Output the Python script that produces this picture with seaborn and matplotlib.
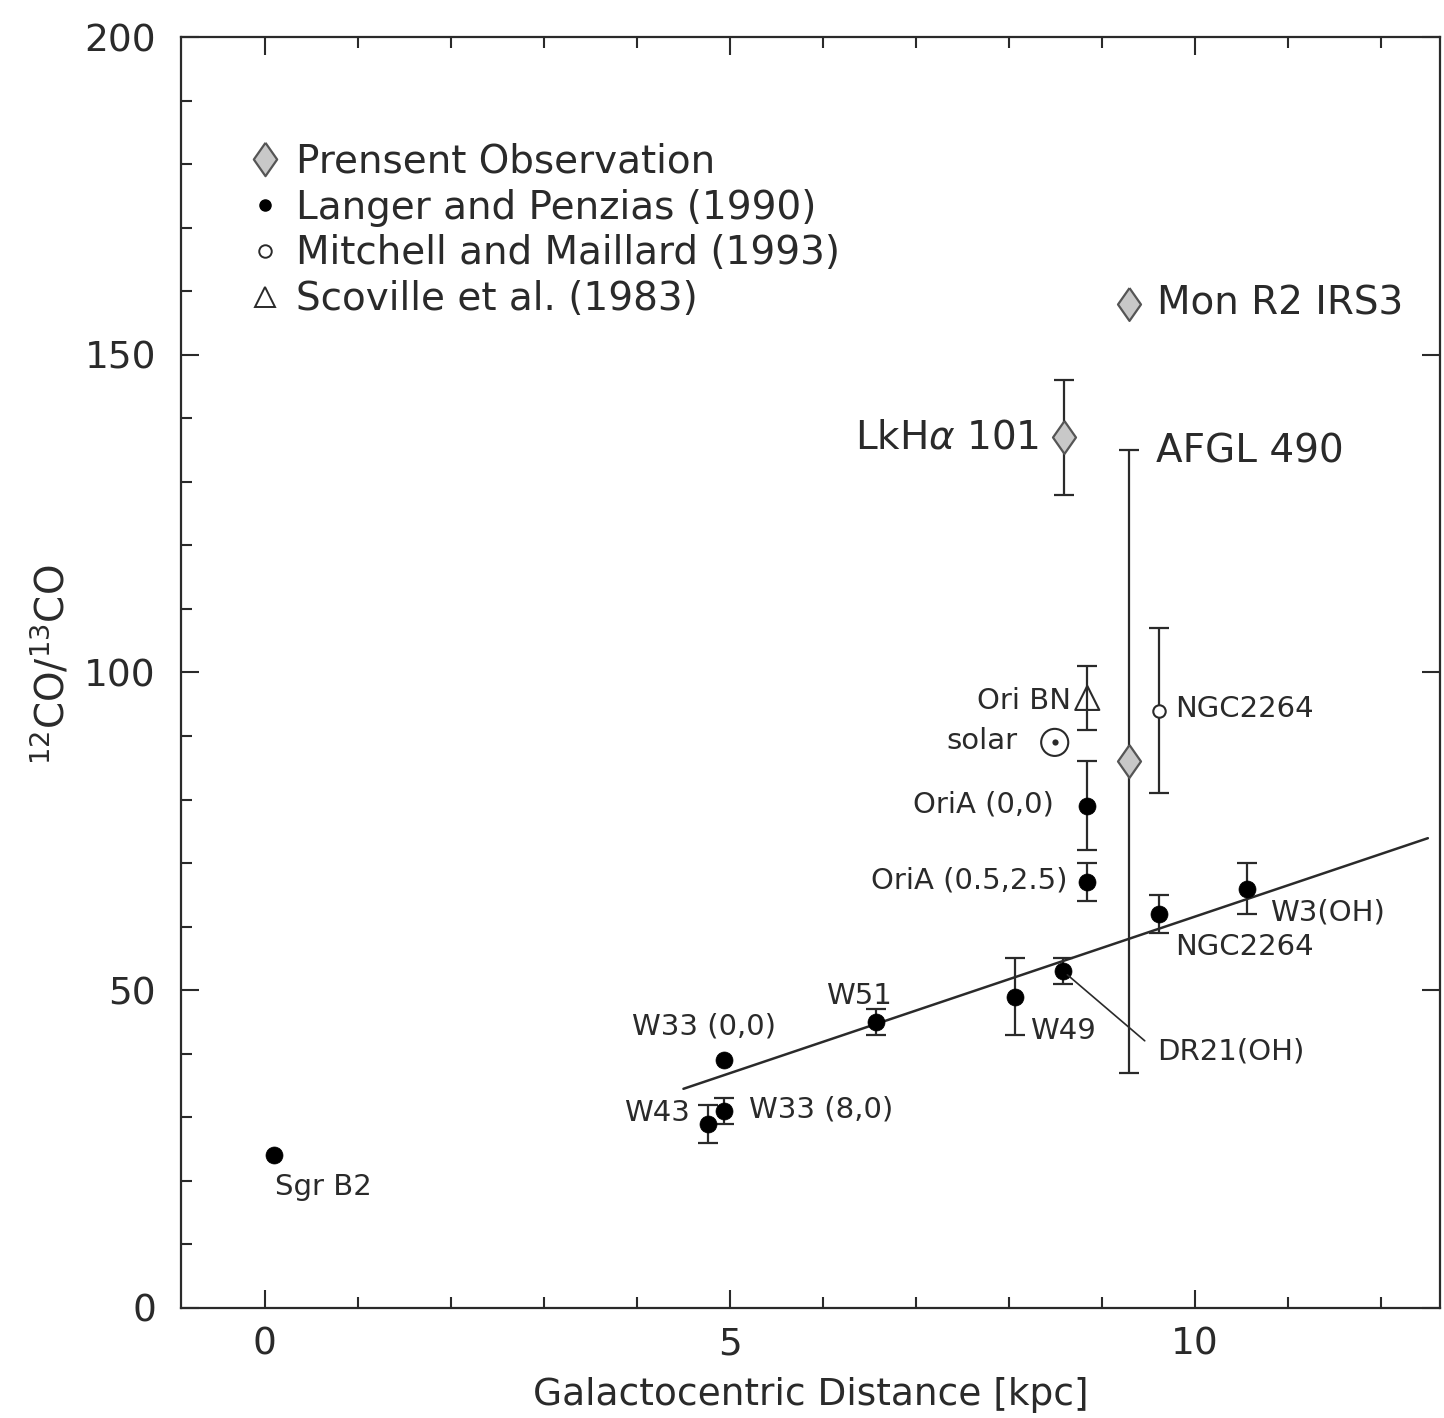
import numpy as np
import pandas as pd
import matplotlib
matplotlib.use("Agg")
import matplotlib.pyplot as plt
from matplotlib.lines import Line2D
from matplotlib.ticker import MultipleLocator
import seaborn as sns

# ---------------- data ----------------
lp_names = ["Sgr B2", "W43", "W33 (0,0)", "W33 (8,0)", "W51", "W49",
            "DR21(OH)", "OriA (0.5,2.5)", "OriA (0,0)", "NGC2264", "W3(OH)"]
lp_x = [0.10, 4.76, 4.94, 4.94, 6.57, 8.06, 8.58, 8.84, 8.84, 9.61, 10.56]
lp_y = [24, 29, 39, 31, 45, 49, 53, 67, 79, 62, 66]
lp_err = [0, 3, 0, 2, 2, 6, 2, 3, 7, 3, 4]

obs_names = ["LkH$\\alpha$ 101", "AFGL 490", "Mon R2 IRS3"]
obs_x = [8.59, 9.29, 9.29]
obs_y = [137, 86, 158]
obs_err = [9, 49, 0]

mm_names = ["NGC2264"]
mm_x = [9.61]
mm_y = [94]
mm_err = [13]

sc_names = ["Ori BN"]
sc_x = [8.84]
sc_y = [96]
sc_err = [5]

solar_x = [8.49]
solar_y = [89]

fit_slope = 4.93
fit_intercept = 12.3
fit_x = [4.5, 12.5]

legend_labels = ["Prensent Observation", "Langer and Penzias (1990)",
                 "Mitchell and Maillard (1993)", "Scoville et al. (1983)"]

# ---------------- style ----------------
sns.set_theme(style="ticks")
plt.rcParams['font.family'] = ['DejaVu Sans']
plt.rcParams['mathtext.fontset'] = 'dejavusans'
INK = "#2a2a2a"
GREY_FILL = "#c8c8c8"

fig = plt.figure(figsize=(14.44, 14.18), dpi=100)
ax = fig.add_axes([0.1253, 0.0776, 0.8719, 0.8963])

diamond = [(0, 1), (0.70, 0), (0, -1), (-0.70, 0), (0, 1)]

lp = pd.DataFrame({"x": lp_x, "y": lp_y, "err": lp_err, "name": lp_names})
obs = pd.DataFrame({"x": obs_x, "y": obs_y, "err": obs_err, "name": obs_names})
mm = pd.DataFrame({"x": mm_x, "y": mm_y, "err": mm_err})
sc = pd.DataFrame({"x": sc_x, "y": sc_y, "err": sc_err})

eb_kw = dict(fmt="none", ecolor=INK, elinewidth=1.6, capsize=7, capthick=1.6, zorder=2)

# fit line
fx = np.array(fit_x)
sns.lineplot(x=fx, y=fit_slope * fx + fit_intercept, ax=ax, color=INK, lw=1.8, zorder=1)

# error bars
for df in (lp, obs, mm, sc):
    sub = df[df["err"] > 0]
    ax.errorbar(sub["x"], sub["y"], yerr=sub["err"], **eb_kw)

# markers
sns.scatterplot(data=lp, x="x", y="y", ax=ax, marker="o", s=150, color="black",
                edgecolor="black", linewidth=0.5, zorder=3)
sns.scatterplot(data=obs, x="x", y="y", ax=ax, marker=diamond, s=560, color=GREY_FILL,
                edgecolor="#555555", linewidth=1.6, zorder=3)
sns.scatterplot(data=mm, x="x", y="y", ax=ax, marker="o", s=80, facecolor="white",
                edgecolor=INK, linewidth=1.5, zorder=3)
sns.scatterplot(data=sc, x="x", y="y", ax=ax, marker="^", s=300, facecolor="none",
                edgecolor=INK, linewidth=1.5, zorder=3)
sns.scatterplot(x=solar_x, y=solar_y, ax=ax, marker="o", s=380, facecolor="none",
                edgecolor=INK, linewidth=1.5, zorder=3)
sns.scatterplot(x=solar_x, y=solar_y, ax=ax, marker="o", s=20, color=INK,
                edgecolor=INK, linewidth=0, zorder=3)

# ---------------- labels ----------------
small = 21
big = 28
lp_off = {
    "Sgr B2": ((1, -23), "left"),
    "W43": ((-13, 8), "right"),
    "W33 (0,0)": ((-15, 24), "center"),
    "W33 (8,0)": ((18, 1), "left"),
    "W51": ((-12, 19), "center"),
    "W49": ((11, -25), "left"),
    "OriA (0.5,2.5)": ((-14, 1), "right"),
    "OriA (0,0)": ((-24, 1), "right"),
    "NGC2264": ((12, -24), "left"),
    "W3(OH)": ((16, -17), "left"),
}
for n, x, y in zip(lp_names, lp_x, lp_y):
    if n in lp_off:
        off, ha = lp_off[n]
        ax.annotate(n, (x, y), xytext=off, textcoords="offset points", ha=ha,
                    va="center", fontsize=small, color=INK)
# DR21(OH) with leader line
i = lp_names.index("DR21(OH)")
ax.annotate("DR21(OH)", (lp_x[i], lp_y[i]), xytext=(68, -58), textcoords="offset points",
            ha="left", va="center", fontsize=small, color=INK,
            arrowprops=dict(arrowstyle="-", color=INK, lw=1.2, shrinkA=9, shrinkB=4,
                            relpos=(0, 0.5)))

ax.annotate(mm_names[0], (mm_x[0], mm_y[0]), xytext=(12, 1), textcoords="offset points",
            ha="left", va="center", fontsize=small, color=INK)
ax.annotate(sc_names[0], (sc_x[0], sc_y[0]), xytext=(-12, -2), textcoords="offset points",
            ha="right", va="center", fontsize=small, color=INK)
ax.annotate("solar", (solar_x[0], solar_y[0]), xytext=(-27, 1), textcoords="offset points",
            ha="right", va="center", fontsize=small, color=INK)

ax.annotate(obs_names[0], (obs_x[0], obs_y[0]), xytext=(-18, 0), textcoords="offset points",
            ha="right", va="center", fontsize=big, color=INK)
ax.annotate(obs_names[1], (obs_x[1], obs_y[1] + obs_err[1]), xytext=(19, -1),
            textcoords="offset points", ha="left", va="center", fontsize=big, color=INK)
ax.annotate(obs_names[2], (obs_x[2], obs_y[2]), xytext=(20, 0), textcoords="offset points",
            ha="left", va="center", fontsize=big, color=INK)

# ---------------- legend ----------------
handles = [
    Line2D([], [], ls="none", marker=diamond, ms=24, mfc=GREY_FILL, mec="#555555", mew=1.6),
    Line2D([], [], ls="none", marker="o", ms=8, mfc="black", mec="black"),
    Line2D([], [], ls="none", marker="o", ms=9, mfc="white", mec=INK, mew=1.4),
    Line2D([], [], ls="none", marker="^", ms=14, mfc="none", mec=INK, mew=1.4),
]
leg = ax.legend(handles, legend_labels, loc="upper left", bbox_to_anchor=(0.042, 0.929),
                frameon=False, fontsize=28, handlelength=0.8, handletextpad=0.4,
                labelspacing=0.2, borderaxespad=0)
for t in leg.get_texts():
    t.set_color(INK)

# ---------------- axes ----------------
ax.set_xlim(-0.9, 12.63)
ax.set_ylim(0, 200)
ax.xaxis.set_major_locator(MultipleLocator(5))
ax.xaxis.set_minor_locator(MultipleLocator(1))
ax.yaxis.set_major_locator(MultipleLocator(50))
ax.yaxis.set_minor_locator(MultipleLocator(10))
ax.tick_params(which="both", direction="in", top=True, right=True, color=INK, width=1.5)
ax.tick_params(which="major", length=13)
ax.tick_params(which="minor", length=8, right=False)
ax.tick_params(axis="x", which="major", labelsize=27, pad=13, labelcolor=INK)
ax.tick_params(axis="y", which="major", labelsize=27, pad=18, labelcolor=INK)
for s in ax.spines.values():
    s.set_color(INK)
    s.set_linewidth(1.6)

ax.set_xlabel("Galactocentric Distance [kpc]", fontsize=27, color=INK, labelpad=11)
ax.set_ylabel("$^{12}$CO/$^{13}$CO", fontsize=28, color=INK)
ax.yaxis.set_label_coords(-0.086, 0.506)

fig.savefig("out.png", dpi=100, facecolor="white")
